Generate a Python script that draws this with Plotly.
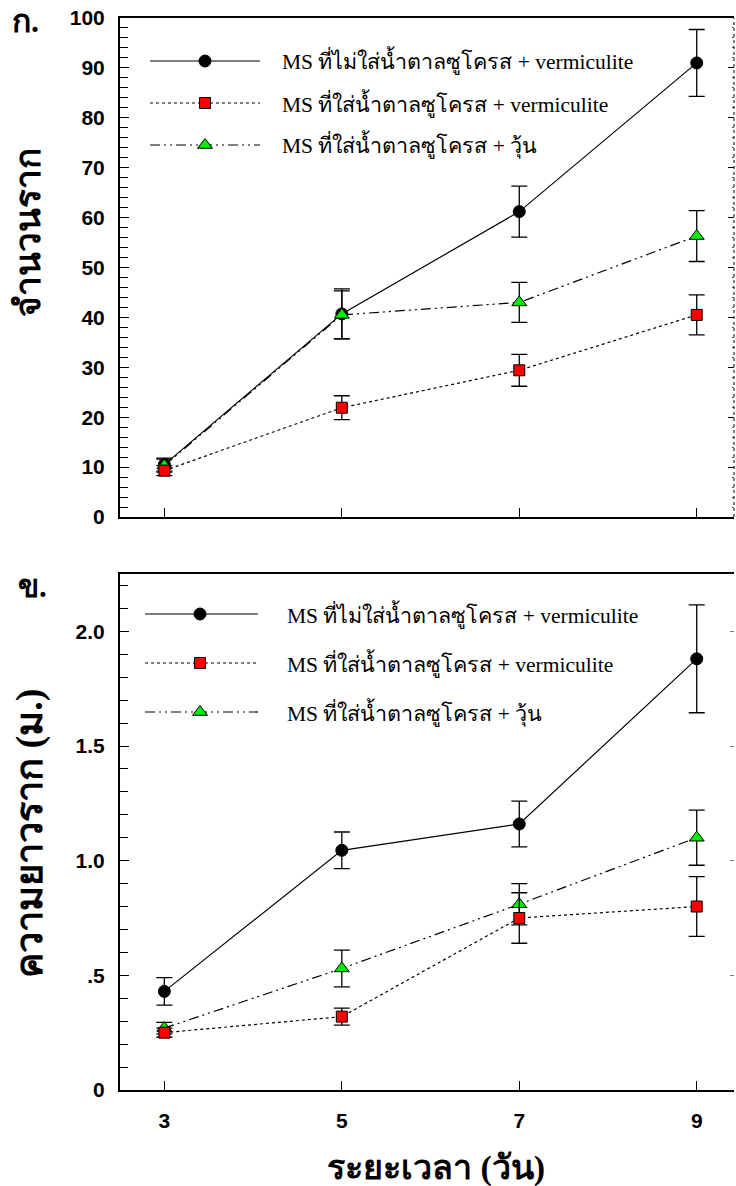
import plotly.graph_objects as go

# Sampling days
days = [3, 5, 7, 9]

# Series names
names = [
    "MS ที่ไม่ใส่น้ำตาลซูโครส + vermiculite",
    "MS ที่ใส่น้ำตาลซูโครส + vermiculite",
    "MS ที่ใส่น้ำตาลซูโครส + วุ้น",
]

# Panel ก: number of roots
count_no_sucrose_verm = [10.5, 40.7, 61.2, 91.0]
count_no_sucrose_verm_err = [1.3, 5.0, 5.1, 6.7]
count_sucrose_verm = [9.3, 21.9, 29.4, 40.5]
count_sucrose_verm_err = [1.0, 2.4, 3.2, 4.0]
count_sucrose_agar = [10.3, 40.5, 43.0, 56.3]
count_sucrose_agar_err = [1.3, 4.8, 4.0, 5.1]

# Panel ข: root length
len_no_sucrose_verm = [0.43, 1.045, 1.16, 1.88]
len_no_sucrose_verm_err = [0.06, 0.08, 0.10, 0.235]
len_sucrose_verm = [0.25, 0.32, 0.75, 0.80]
len_sucrose_verm_err = [0.02, 0.037, 0.11, 0.13]
len_sucrose_agar = [0.27, 0.53, 0.81, 1.10]
len_sucrose_agar_err = [0.025, 0.08, 0.09, 0.12]

# Axis ticks
x_ticks = [3, 5, 7, 9]
count_ticks = [0, 10, 20, 30, 40, 50, 60, 70, 80, 90, 100]
length_ticks = [0, 0.5, 1.0, 1.5, 2.0]
length_tick_text = ["0", ".5", "1.0", "1.5", "2.0"]

W, H = 736, 1186
STYLES = [
    dict(dash="solid", symbol="circle", color="black", size=12),
    dict(dash="dot", symbol="square", color="#ff0000", size=11),
    dict(dash="10px,4px,2px,4px,2px,4px", symbol="triangle-up", color="#00ee00", size=13),
]

def px_x(p):
    return p / W

def px_y(p):
    return 1 - p / H

X_DOM = [px_x(120), px_x(734)]
TOP_DOM = [px_y(517), px_y(18)]
BOT_DOM = [px_y(1090), px_y(574)]

fig = go.Figure()

def add_series(vals, errs, style, xa, ya):
    fig.add_trace(go.Scatter(
        x=days, y=vals, xaxis=xa, yaxis=ya, mode="lines+markers",
        line=dict(color="black", width=1.2, dash=style["dash"]),
        marker=dict(symbol=style["symbol"], color=style["color"], size=style["size"],
                    line=dict(color="black", width=1)),
        error_y=dict(type="data", array=errs, visible=True, color="black",
                     thickness=1.3, width=8),
        showlegend=False, hoverinfo="skip",
    ))

top_sets = [
    (count_no_sucrose_verm, count_no_sucrose_verm_err),
    (count_sucrose_verm, count_sucrose_verm_err),
    (count_sucrose_agar, count_sucrose_agar_err),
]
bot_sets = [
    (len_no_sucrose_verm, len_no_sucrose_verm_err),
    (len_sucrose_verm, len_sucrose_verm_err),
    (len_sucrose_agar, len_sucrose_agar_err),
]
# draw order: circle, agar triangle, square on top
for i in [0, 2, 1]:
    add_series(top_sets[i][0], top_sets[i][1], STYLES[i], "x", "y")
for i in [0, 2, 1]:
    add_series(bot_sets[i][0], bot_sets[i][1], STYLES[i], "x2", "y2")

# empty traces so the right-hand tick axes get a subplot
fig.add_trace(go.Scatter(x=[], y=[], xaxis="x", yaxis="y3", showlegend=False))
fig.add_trace(go.Scatter(x=[], y=[], xaxis="x2", yaxis="y4", showlegend=False))

# Legend samples drawn on a pixel-space overlay axis
legend_rows = [
    (150, 260, 205, 280, [61, 103, 145]),
    (145, 258, 200, 285, [614, 663, 712]),
]
for (x0, x1, xm, xt, rows) in legend_rows:
    for i, yy in enumerate(rows):
        st = STYLES[i]
        fig.add_trace(go.Scatter(
            x=[x0, xm, x1], y=[yy, yy, yy], xaxis="x3", yaxis="y5", mode="lines",
            line=dict(color="black", width=1.2, dash=st["dash"]),
            showlegend=False, hoverinfo="skip"))
        fig.add_trace(go.Scatter(
            x=[xm], y=[yy], xaxis="x3", yaxis="y5", mode="markers",
            marker=dict(symbol=st["symbol"], color=st["color"], size=st["size"],
                        line=dict(color="black", width=1)),
            showlegend=False, hoverinfo="skip"))
        fig.add_annotation(
            x=px_x(xt), y=px_y(yy), xref="paper", yref="paper", text=names[i],
            showarrow=False, xanchor="left", yanchor="middle",
            font=dict(family="Liberation Serif, Noto Serif, serif", size=21.5, color="black"))

tick_font = dict(family="Liberation Sans, Arial, sans-serif", size=21, color="black", weight="bold")

common_x = dict(range=[2.5, 9.42], domain=X_DOM, tickvals=x_ticks, ticks="inside",
                ticklen=9, tickwidth=1.3, tickcolor="black", showline=True, linecolor="black",
                linewidth=2, mirror=True, showgrid=False, zeroline=False, tickfont=tick_font,
                automargin=False)

fig.update_layout(
    template="none",
    width=W, height=H, margin=dict(l=0, r=0, t=0, b=0, autoexpand=False),
    paper_bgcolor="white", plot_bgcolor="rgba(0,0,0,0)",
    showlegend=False,
    xaxis=dict(common_x, anchor="y", showticklabels=False),
    yaxis=dict(range=[0, 100], domain=TOP_DOM, anchor="x", tickvals=count_ticks,
               ticks="inside", ticklen=9, tickwidth=1.3, tickcolor="black",
               showline=True, linecolor="black", linewidth=2, showgrid=False,
               zeroline=False, tickfont=tick_font, ticklabelstandoff=9, automargin=False,
               minor=dict(dtick=2, ticks="inside", ticklen=8, tickcolor="black", tickwidth=1)),
    xaxis2=dict(common_x, anchor="y2", ticklabelstandoff=11),
    yaxis2=dict(range=[0, 2.25], domain=BOT_DOM, anchor="x2", tickvals=length_ticks,
                ticktext=length_tick_text, ticks="inside", ticklen=9, tickwidth=1.3,
                tickcolor="black", showline=True, linecolor="black", linewidth=2,
                showgrid=False, zeroline=False, tickfont=tick_font, ticklabelstandoff=9,
                automargin=False,
                minor=dict(dtick=0.1, ticks="inside", ticklen=8, tickcolor="black", tickwidth=1)),
    # right-hand tick marks
    yaxis3=dict(range=[0, 100], domain=TOP_DOM, overlaying="y", anchor="x",
                side="right", tickvals=count_ticks, ticks="inside",
                ticklen=6, tickcolor="black", showticklabels=False, showline=False,
                showgrid=False, zeroline=False, automargin=False,
                minor=dict(dtick=2, ticks="inside", ticklen=2, tickcolor="#555")),
    yaxis4=dict(range=[0, 2.25], domain=BOT_DOM, overlaying="y2", anchor="x2",
                side="right", tickvals=length_ticks, ticks="inside",
                ticklen=4, tickcolor="#777", showticklabels=False, showline=False,
                showgrid=False, zeroline=False, automargin=False),
    # pixel-space overlay for legend samples
    xaxis3=dict(range=[0, W], domain=[0, 1], anchor="y5", visible=False, fixedrange=True,
                automargin=False),
    yaxis5=dict(range=[H, 0], domain=[0, 1], anchor="x3", visible=False, fixedrange=True,
                automargin=False),
)

# dotted right edge of the upper frame
fig.add_shape(type="line", xref="paper", yref="paper", x0=X_DOM[1], x1=X_DOM[1],
              y0=TOP_DOM[0], y1=TOP_DOM[1], line=dict(color="black", width=1, dash="dot"))

title_font = dict(family="Liberation Serif, Noto Serif, serif", size=35, color="black", weight="bold")

def label(text, x, y, size, angle=0):
    fig.add_annotation(x=px_x(x), y=px_y(y), xref="paper", yref="paper", text=text,
                       textangle=angle, showarrow=False, xanchor="center", yanchor="middle",
                       font=dict(title_font, size=size))

label("จำนวนราก", 28, 233, 35, -90)
label("ความยาวราก (ม.)", 29, 834, 38, -90)
label("ระยะเวลา (วัน)", 436, 1168, 34)
label("ก.", 25, 21, 32)
label("ข.", 32, 586, 31)

fig.write_html("out.html")
